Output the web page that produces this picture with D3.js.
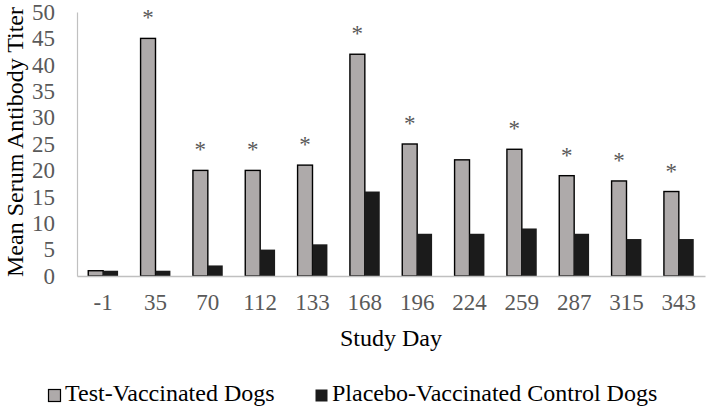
<!DOCTYPE html>
<html>
<head>
<meta charset="utf-8">
<script src="https://cdn.jsdelivr.net/npm/d3@7"></script>
<style>
  body { margin: 0; background: #fff; }
  svg text { font-family: "Liberation Serif", "Times New Roman", Times, "Nimbus Roman", "DejaVu Serif", serif !important; }
</style>
</head>
<body>
<div id="chart"></div>
<script>
const days = ['-1', '35', '70', '112', '133', '168', '196', '224', '259', '287', '315', '343'];
const testVaccinated = [1, 45, 20, 20, 21, 42, 25, 22, 24, 19, 18, 16];
const placeboControl = [1, 1, 2, 5, 6, 16, 8, 8, 9, 8, 7, 7];
const significant = [false, true, true, true, true, true, true, false, true, true, true, true];
const yTicks = [0, 5, 10, 15, 20, 25, 30, 35, 40, 45, 50];
const seriesNames = ['Test-Vaccinated Dogs', 'Placebo-Vaccinated Control Dogs'];

const width = 709, height = 411;
const margin = { left: 77, right: 4, top: 12, bottom: 135 };
const plotW = width - margin.left - margin.right;
const plotH = height - margin.top - margin.bottom;

const svg = d3.select('#chart').append('svg')
    .attr('width', width)
    .attr('height', height);

const g = svg.append('g').attr('transform', `translate(${margin.left},${margin.top})`);

const x0 = d3.scaleBand().domain(days).range([0, plotW]).paddingInner(0.43).paddingOuter(0.215);
const x1 = d3.scaleBand().domain([0, 1]).range([0, x0.bandwidth()]);
const y = d3.scaleLinear().domain([0, 50]).range([plotH, 0]);

const colors = ['#aeaaaa', '#1b1b1b'];

// bars
const groups = g.selectAll('.grp')
    .data(days)
    .enter().append('g')
    .attr('transform', d => `translate(${x0(d)},0)`);

groups.append('rect')
    .attr('x', x1(0))
    .attr('y', (d, i) => y(testVaccinated[i]))
    .attr('width', x1.bandwidth())
    .attr('height', (d, i) => plotH - y(testVaccinated[i]))
    .attr('fill', colors[0])
    .attr('stroke', '#000')
    .attr('stroke-width', 1.4);

groups.append('rect')
    .attr('x', x1(1))
    .attr('y', (d, i) => y(placeboControl[i]))
    .attr('width', x1.bandwidth())
    .attr('height', (d, i) => plotH - y(placeboControl[i]))
    .attr('fill', colors[1]);

// asterisks over significant days
groups.filter((d, i) => significant[i])
    .append('text')
    .attr('x', x1(0) + x1.bandwidth() / 2)
    .attr('y', d => y(testVaccinated[days.indexOf(d)]) - 13)
    .attr('text-anchor', 'middle')
    .attr('font-size', 23)
    .attr('fill', '#595959')
    .text('*');

// axes
const yAxis = g.append('g').call(d3.axisLeft(y).tickValues(yTicks).tickSize(0).tickPadding(22));
yAxis.select('.domain').attr('stroke', '#c0c0c0').attr('stroke-width', 1.2);
yAxis.selectAll('text')
    .attr('font-size', 23)
    .attr('fill', '#595959');

const xAxis = g.append('g')
    .attr('transform', `translate(0,${plotH})`)
    .call(d3.axisBottom(x0).tickSize(0).tickPadding(18));
xAxis.select('.domain').attr('stroke', '#c0c0c0').attr('stroke-width', 1.5);
xAxis.selectAll('text')
    .attr('font-size', 23)
    .attr('fill', '#595959');

// titles
svg.append('text')
    .attr('transform', 'translate(23,142) rotate(-90)')
    .attr('text-anchor', 'middle')
    .attr('font-size', 24)
    .attr('fill', '#000')
    .text('Mean Serum Antibody Titer');

svg.append('text')
    .attr('x', margin.left + plotW / 2)
    .attr('y', 346)
    .attr('text-anchor', 'middle')
    .attr('font-size', 24)
    .attr('fill', '#000')
    .text('Study Day');

// legend
const legendX = [48, 315];
const legend = svg.selectAll('.leg')
    .data(seriesNames)
    .enter().append('g')
    .attr('transform', (d, i) => `translate(${legendX[i]},389)`);

legend.append('rect')
    .attr('x', 0.5)
    .attr('y', 0.5)
    .attr('width', 12)
    .attr('height', 12)
    .attr('fill', (d, i) => colors[i])
    .attr('stroke', (d, i) => i === 0 ? '#000' : 'none')
    .attr('stroke-width', 1.2);

legend.append('text')
    .attr('x', 17)
    .attr('y', 12)
    .attr('font-size', 24)
    .attr('fill', '#000')
    .text(d => d);
</script>
</body>
</html>
